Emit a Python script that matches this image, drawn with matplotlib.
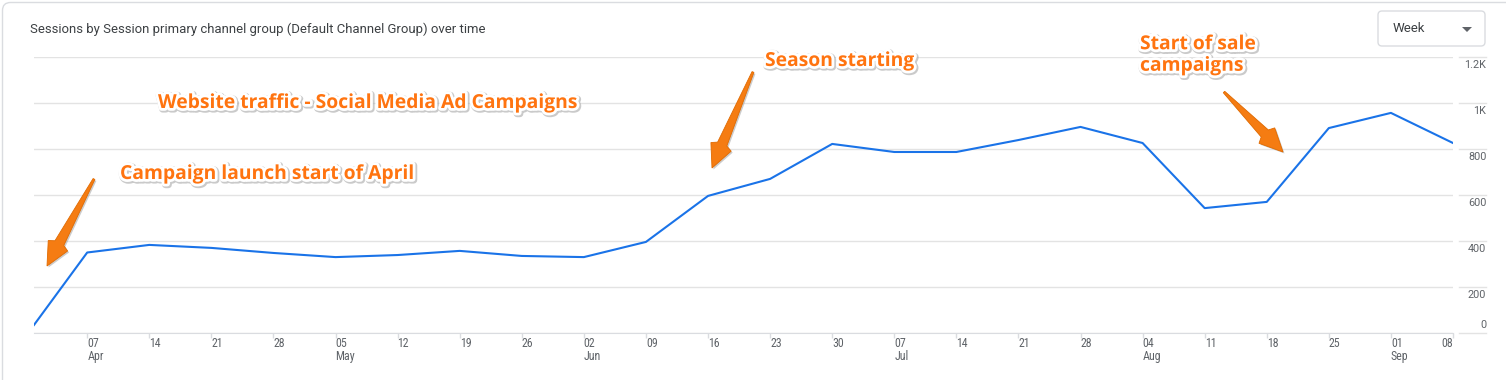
import pandas as pd
import matplotlib.pyplot as plt
import matplotlib.patheffects as pe
from matplotlib.patches import FancyBboxPatch, Polygon
from matplotlib.path import Path
from matplotlib.patches import PathPatch
from matplotlib.transforms import Affine2D
import numpy as np

# -------------------------- 数据 --------------------------
dates = ['2024-04-01', '2024-04-07', '2024-04-14', '2024-04-21', '2024-04-28',
         '2024-05-05', '2024-05-12', '2024-05-19', '2024-05-26', '2024-06-02',
         '2024-06-09', '2024-06-16', '2024-06-23', '2024-06-30', '2024-07-07',
         '2024-07-14', '2024-07-21', '2024-07-28', '2024-08-04', '2024-08-11',
         '2024-08-18', '2024-08-25', '2024-09-01', '2024-09-08']
sessions = [35, 350, 383, 370, 348, 330, 339, 357, 335, 330, 396, 596, 670,
            822, 787, 787, 839, 896, 826, 543, 570, 891, 957, 826]

tick_dates = dates[1:]
tick_labels = ['07\nApr', '14', '21', '28', '05\nMay', '12', '19', '26',
               '02\nJun', '09', '16', '23', '30', '07\nJul', '14', '21', '28',
               '04\nAug', '11', '18', '25', '01\nSep', '08']
y_ticks = [0, 200, 400, 600, 800, 1000, 1200]
y_tick_labels = ['0', '200', '400', '600', '800', '1K', '1.2K']

title = 'Sessions by Session primary channel group (Default Channel Group) over time'
notes = ['Website traffic - Social Media Ad Campaigns', 'Campaign launch start of April',
         'Season starting', 'Start of sale\ncampaigns']

# -------------------------- 画布 --------------------------
W, H = 1506, 380
fig = plt.figure(figsize=(W / 100, H / 100), dpi=100)
fig.patch.set_facecolor('white')

# 像素坐标系（左上角为原点）
PX = Affine2D().scale(1 / W, -1 / H).translate(0, 1) + fig.transFigure

grey_txt = '#5f6368'
grid_c = '#e3e3e3'
orange = '#ff7410'

# 卡片边框：只画左边和上边，左上角圆角
r = 8
card_path = Path([(2.5, H + 5), (2.5, 2.5 + r), (2.5, 2.5), (2.5 + r, 2.5), (W + 5, 2.5)],
                 [Path.MOVETO, Path.LINETO, Path.CURVE3, Path.CURVE3, Path.LINETO])
fig.patches.append(PathPatch(card_path, transform=PX, facecolor='none',
                             edgecolor='#dadce0', linewidth=1))

left, right, top, bottom = 34, 1453, 57, 333
ax = fig.add_axes([left / W, 1 - bottom / H, (right - left) / W, (bottom - top) / H])

x = pd.to_datetime(dates)
ax.plot(x, sessions, color='#1a73e8', linewidth=1.5, zorder=3)

ax.set_xlim(x[0], x[-1])
ax.set_ylim(0, 1200)

# 网格线
ax.set_yticks(y_ticks)
ax.yaxis.grid(True, color=grid_c, linewidth=1)
ax.tick_params(axis='y', length=0, labelleft=False, labelright=False)
for v in y_ticks:
    ax.plot([1.004, 1.023], [v, v], transform=ax.get_yaxis_transform(), color=grid_c,
            linewidth=1, clip_on=False)

for v, lab in zip(y_ticks, y_tick_labels):
    off = 2 if v == 0 else -2
    ax.annotate(lab, (1.0, v), xycoords=ax.get_yaxis_transform(), xytext=(24, off),
                textcoords='offset points', ha='right', va='bottom' if v == 0 else 'top',
                fontsize=7.8, color=grey_txt, family=['Roboto', 'DejaVu Sans'])

# X轴：标签左对齐于刻度
ax.set_xticks(pd.to_datetime(tick_dates))
ax.set_xticklabels(tick_labels, fontsize=8.6, color=grey_txt, linespacing=1.0,
                   family=['Liberation Sans Narrow', 'Roboto Condensed', 'Roboto'])
ax.tick_params(axis='x', length=3.5, width=1, color='#dadce0', pad=-0.5)
xlabels = ax.get_xticklabels()
for lab in xlabels:
    lab.set_ha('left')
    lab.set_multialignment('left')
xlabels[-1].set_ha('right')

for s in ['top', 'right', 'left']:
    ax.spines[s].set_visible(False)
ax.spines['bottom'].set_color('#dadce0')

# 标题
fig.text(30, 29, title, transform=PX, fontsize=9.45, color='#3c4043', va='center', ha='left',
         family=['Roboto', 'DejaVu Sans'])

# Week 下拉框
box = FancyBboxPatch((1378, 11), 107, 35, boxstyle='round,pad=0,rounding_size=4',
                     transform=PX, facecolor='white', edgecolor='#dadce0', linewidth=1)
fig.patches.append(box)
fig.text(1393, 29, 'Week', transform=PX, fontsize=9.5, color='#3c4043', va='center',
         ha='left', family=['Roboto', 'DejaVu Sans'])
fig.patches.append(Polygon([(1462, 27), (1472, 27), (1467, 32)], closed=True,
                           transform=PX, facecolor='#5f6368', edgecolor='none'))

# -------------------------- 橙色注释 --------------------------
effects = [pe.Stroke(linewidth=5, foreground='#a8a8a8', offset=(0.8, -0.8), alpha=0.6),
           pe.Stroke(linewidth=4, foreground='white'), pe.Normal()]
note_pos = [(158, 103), (120, 174), (765, 61), (1140, 55)]
for (tx, ty), txt in zip(note_pos, notes):
    fig.text(tx, ty, txt, transform=PX, fontsize=13.9, fontweight='bold', color=orange,
             ha='left', va='center', family=['Open Sans', 'DejaVu Sans'], linespacing=1.1,
             path_effects=effects)


def arrow(tail, tip, head_len=26, head_w=22, shaft_w=10):
    tail = np.array(tail, float)
    tip = np.array(tip, float)
    d = tip - tail
    u = d / np.hypot(*d)
    n = np.array([-u[1], u[0]])
    base = tip - u * head_len
    pts = [tail + n * 1.0, base + n * shaft_w / 2, base + n * head_w / 2 + u * 3, tip,
           base - n * head_w / 2 + u * 3, base - n * shaft_w / 2, tail - n * 1.0]
    shadow = [(p[0] + 1.5, p[1] + 1.5) for p in pts]
    fig.patches.append(Polygon(shadow, closed=True, transform=PX,
                               facecolor='#9a9a9a', edgecolor='none', alpha=0.5))
    fig.patches.append(Polygon(pts, closed=True, transform=PX,
                               facecolor='#f57c12', edgecolor='#e06a00', linewidth=0.6))


arrow((94, 179), (47, 266))
arrow((753, 72), (712, 168))
arrow((1224, 92), (1283, 152))

plt.savefig('out.png', dpi=100, facecolor='white')
